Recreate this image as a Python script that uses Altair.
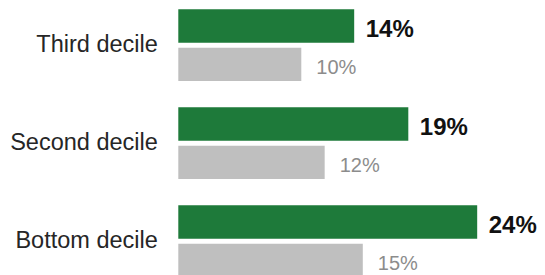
import altair as alt
import pandas as pd

deciles = ["Third decile", "Second decile", "Bottom decile"]
series_names = ["Highlighted", "Comparison"]
green_values = [14.3, 18.7, 24.3]
gray_values = [10.0, 11.9, 15.0]

rows = []
for d, g, c in zip(deciles, green_values, gray_values):
    rows.append({"decile": d, "series": series_names[0], "value": g})
    rows.append({"decile": d, "series": series_names[1], "value": c})
df = pd.DataFrame(rows)

FONT = "Liberation Sans, Arial, sans-serif"

y_enc = alt.Y(
    "decile:N",
    sort=deciles,
    scale=alt.Scale(paddingInner=0.268, paddingOuter=0),
    axis=alt.Axis(
        title=None, domain=False, ticks=False, labelPadding=21,
        labelFont=FONT, labelFontSize=23.5, labelColor="#262626", labelLimit=400,
        labelBaseline="alphabetic", labelOffset=7,
    ),
)
yoff_enc = alt.YOffset(
    "series:N", sort=series_names, scale=alt.Scale(paddingInner=0.13, paddingOuter=0)
)
x_enc = alt.X("value:Q", scale=alt.Scale(domain=[0, 30]), axis=None)

base = alt.Chart(df).encode(y=y_enc, yOffset=yoff_enc, x=x_enc)

bars = base.mark_bar(cornerRadius=0).encode(
    color=alt.Color(
        "series:N",
        scale=alt.Scale(domain=series_names, range=["#1E7A3A", "#BFBFBF"]),
        legend=None,
    )
)

labels = base.transform_calculate(
    label="format(datum.value, '.0f') + '%'"
)

green_text = labels.transform_filter(
    alt.datum.series == series_names[0]
).mark_text(
    align="left", baseline="alphabetic", dx=11.5, dy=10.9, font=FONT,
    fontSize=24, fontWeight="bold", color="#111111",
).encode(text="label:N")

gray_text = labels.transform_filter(
    alt.datum.series == series_names[1]
).mark_text(
    align="left", baseline="alphabetic", dx=15, dy=9.6, font=FONT,
    fontSize=20, color="#8C8C8C",
).encode(text="label:N")

chart = alt.layer(bars, green_text, gray_text).properties(
    width=369,
    height=267.7,
    autosize=alt.AutoSizeParams(type="none"),
    padding={"left": 170.3, "top": 1.3, "right": -10.3, "bottom": -2},
).configure_view(stroke=None)

chart.save("out.html", embed_options={"renderer": "svg", "actions": False})
